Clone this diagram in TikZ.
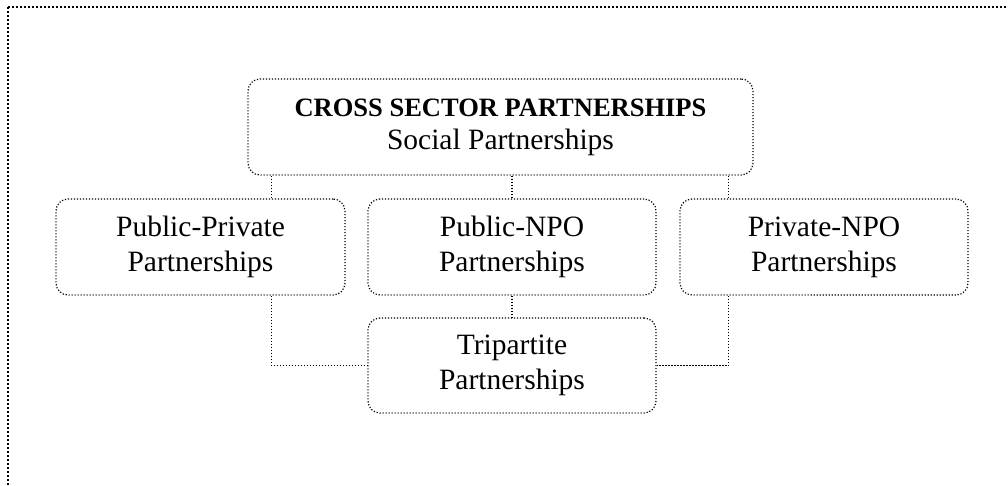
\documentclass[tikz,border=0pt]{standalone}
\usepackage{fontspec}
\setmainfont{Liberation Serif}
\usetikzlibrary{positioning,calc}

\begin{document}
\begin{tikzpicture}[x=1pt,y=-1pt,
   part/.style={draw,line width=1.2pt,dash pattern=on 1.2pt off 1.8pt,rounded corners=12pt,align=center,
     minimum width=288pt,minimum height=96pt,inner sep=0pt,
     font=\fontsize{29.5}{35}\selectfont},
   link/.style={draw,line width=1.2pt,dash pattern=on 1.2pt off 1.8pt},
   frame/.style={draw,line width=1.6pt,dash pattern=on 1.6pt off 2.4pt}]
  \useasboundingbox (0,0) rectangle (1008,485);
  % ---- outer frame (cut off at right and bottom) ----
  \begin{scope}
    \clip (0,0) rectangle (1008,485);
    \draw[frame] (8,7) rectangle (1030,510);
  \end{scope}

  % ---- partnership boxes ----
  \node[part,minimum width=505pt,font=\fontsize{29.5}{33}\selectfont] (cross) at (500.5,127)
    {{\fontsize{26.5}{33}\selectfont\bfseries CROSS SECTOR PARTNERSHIPS}\\Social Partnerships};
  \node[part,minimum width=289pt] (pubpriv) at (200.5,247) {Public-Private\\Partnerships};
  \node[part] (pubnpo)  at (512,247) {Public-NPO\\Partnerships};
  \node[part] (privnpo) at (824,247) {Private-NPO\\Partnerships};
  \node[part,minimum height=95pt] (tri) at (512,365.5) {Tripartite\\Partnerships};

  % ---- connectors ----
  \coordinate (jl) at ($(cross.south west)+(24,0)$);
  \coordinate (jr) at ($(cross.south east)+(-25,0)$);
  \draw[link] (jl) -- (jl |- pubpriv.north);
  \draw[link] (jr) -- (jr |- privnpo.north);
  \draw[link] (cross.south -| pubnpo) -- (pubnpo.north);
  \draw[link] (pubnpo.south) -- (tri.north);
  \draw[link] (jl |- pubpriv.south) |- (tri.west);
  \draw[link] (jr |- privnpo.south) |- (tri.east);
\end{tikzpicture}
\end{document}
